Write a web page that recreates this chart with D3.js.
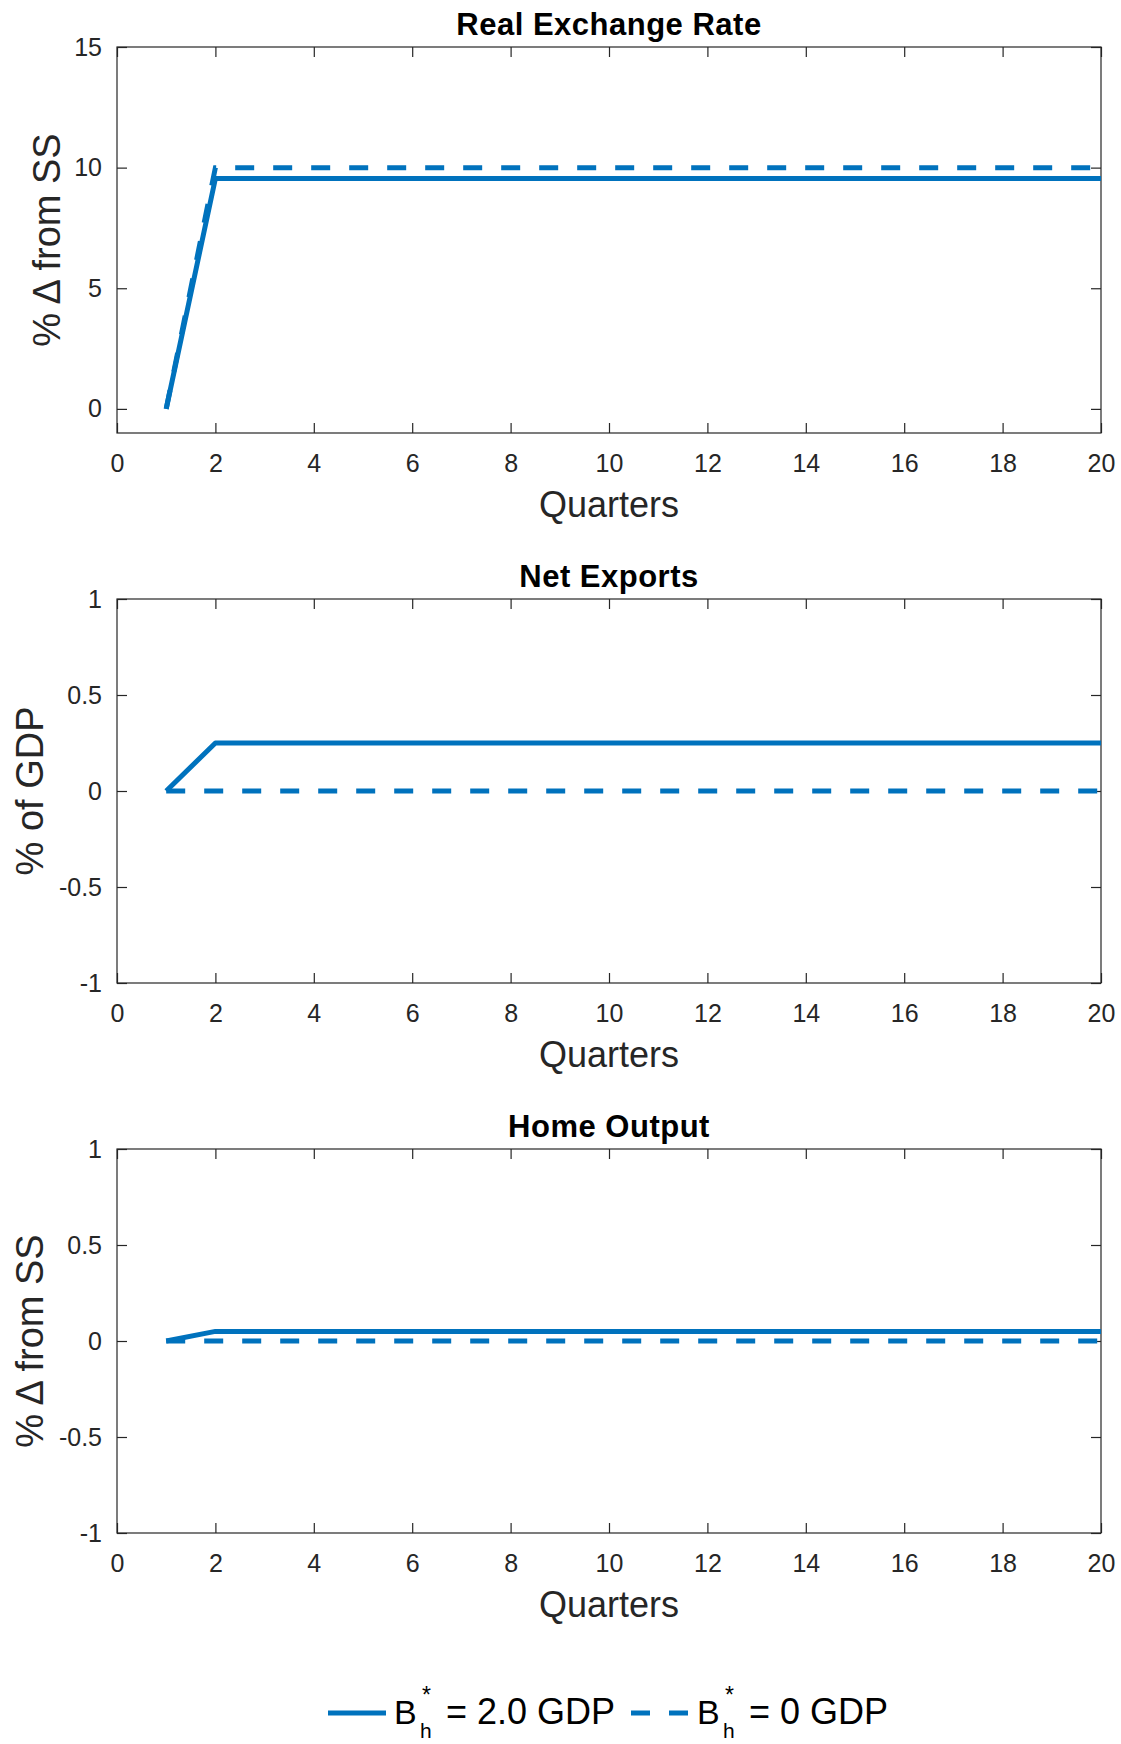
<!DOCTYPE html>
<html>
<head>
<meta charset="utf-8">
<script src="https://cdn.jsdelivr.net/npm/d3@7/dist/d3.min.js"></script>
<style>
  body { margin: 0; background: #fff; }
  svg { display: block; font-family: "Liberation Sans", Arial, sans-serif; }
</style>
</head>
<body>
<div id="chart"></div>
<script>
// quarters and tick values
var quarters = [1, 2, 3, 4, 5, 6, 7, 8, 9, 10, 11, 12, 13, 14, 15, 16, 17, 18, 19, 20]
var xTicks = [0, 2, 4, 6, 8, 10, 12, 14, 16, 18, 20]
var rerTicks = [0, 5, 10, 15]
var unitTicks = [-1, -0.5, 0, 0.5, 1]

// series (solid = B*h 2.0 GDP, dashed = B*h 0 GDP)
var rerSolid   = [0, 9.55, 9.55, 9.55, 9.55, 9.55, 9.55, 9.55, 9.55, 9.55, 9.55, 9.55, 9.55, 9.55, 9.55, 9.55, 9.55, 9.55, 9.55, 9.55]
var rerDashed  = [0, 10, 10, 10, 10, 10, 10, 10, 10, 10, 10, 10, 10, 10, 10, 10, 10, 10, 10, 10]
var nxSolid    = [0, 0.25, 0.25, 0.25, 0.25, 0.25, 0.25, 0.25, 0.25, 0.25, 0.25, 0.25, 0.25, 0.25, 0.25, 0.25, 0.25, 0.25, 0.25, 0.25]
var nxDashed   = [0, 0, 0, 0, 0, 0, 0, 0, 0, 0, 0, 0, 0, 0, 0, 0, 0, 0, 0, 0]
var outSolid   = [0, 0.05, 0.05, 0.05, 0.05, 0.05, 0.05, 0.05, 0.05, 0.05, 0.05, 0.05, 0.05, 0.05, 0.05, 0.05, 0.05, 0.05, 0.05, 0.05]
var outDashed  = [0, 0, 0, 0, 0, 0, 0, 0, 0, 0, 0, 0, 0, 0, 0, 0, 0, 0, 0, 0]

var width = 1121, height = 1744
  , left = 117, right = 1101
  , blue = '#0072BD'
  , ink = '#262626'

var svg = d3.select('#chart').append('svg')
  .attr('width', width)
  .attr('height', height)

var xScale = d3.scaleLinear().domain([0, 20]).range([left, right])

var panels = [
  { top: 47, bottom: 433, title: 'Real Exchange Rate', ylabel: '% \u0394 from SS', labelX: 60,
    domain: [-1, 15], ticks: rerTicks, solid: rerSolid, dashed: rerDashed },
  { top: 599, bottom: 983, title: 'Net Exports', ylabel: '% of GDP', labelX: 43,
    domain: [-1, 1], ticks: unitTicks, solid: nxSolid, dashed: nxDashed },
  { top: 1149, bottom: 1533, title: 'Home Output', ylabel: '% \u0394 from SS', labelX: 43,
    domain: [-1, 1], ticks: unitTicks, solid: outSolid, dashed: outDashed }
]

function styleAxis(g) {
  g.select('.domain').remove()
  g.selectAll('.tick line').attr('stroke', ink).attr('stroke-width', 1.2)
  g.selectAll('.tick text').attr('fill', ink).style('font-size', '25px')
}

panels.forEach(function(p) {
  var yScale = d3.scaleLinear().domain(p.domain).range([p.bottom, p.top])
    , fmt = function(d) { return String(d) }
    , g = svg.append('g')

  // ticks on all four sides, pointing inward
  g.append('g').attr('transform', 'translate(0,' + p.bottom + ')')
    .call(d3.axisBottom(xScale).tickValues(xTicks).tickFormat(fmt).tickSizeInner(-10).tickSizeOuter(0).tickPadding(21))
    .call(styleAxis)
  g.append('g').attr('transform', 'translate(0,' + p.top + ')')
    .call(d3.axisTop(xScale).tickValues(xTicks).tickFormat('').tickSizeInner(-10).tickSizeOuter(0))
    .call(styleAxis)
  g.append('g').attr('transform', 'translate(' + left + ',0)')
    .call(d3.axisLeft(yScale).tickValues(p.ticks).tickFormat(fmt).tickSizeInner(-10).tickSizeOuter(0).tickPadding(15))
    .call(styleAxis)
  g.append('g').attr('transform', 'translate(' + right + ',0)')
    .call(d3.axisRight(yScale).tickValues(p.ticks).tickFormat('').tickSizeInner(-10).tickSizeOuter(0))
    .call(styleAxis)

  g.append('rect')
    .attr('x', left).attr('y', p.top)
    .attr('width', right - left).attr('height', p.bottom - p.top)
    .attr('fill', 'none').attr('stroke', ink).attr('stroke-width', 1.2)

  var line = d3.line()
    .x(function(d, i) { return xScale(quarters[i]) })
    .y(function(d) { return yScale(d) })

  g.append('path').datum(p.solid)
    .attr('d', line).attr('fill', 'none')
    .attr('stroke', blue).attr('stroke-width', 5)
    .attr('stroke-linejoin', 'round')

  g.append('path').datum(p.dashed)
    .attr('d', line).attr('fill', 'none')
    .attr('stroke', blue).attr('stroke-width', 5)
    .attr('stroke-dasharray', '19,19')

  // title
  g.append('text')
    .attr('x', (left + right) / 2).attr('y', p.top - 12)
    .attr('text-anchor', 'middle')
    .style('font-size', '31px').style('font-weight', 'bold')
    .style('letter-spacing', '0.5px')
    .attr('fill', '#000')
    .text(p.title)

  // x label
  g.append('text')
    .attr('x', (left + right) / 2).attr('y', p.bottom + 84)
    .attr('text-anchor', 'middle')
    .style('font-size', '36px')
    .attr('fill', ink)
    .text('Quarters')

  // y label
  g.append('text')
    .attr('transform', 'translate(' + p.labelX + ',' + ((p.top + p.bottom) / 2) + ') rotate(-90)')
    .attr('text-anchor', 'middle')
    .style('font-size', '38px')
    .attr('fill', ink)
    .text(p.ylabel)
})

// legend
var legend = svg.append('g')
var legendItems = [
  { x: 328, dash: null, value: '= 2.0 GDP' },
  { x: 631, dash: '19,19', value: '= 0 GDP' }
]

legendItems.forEach(function(item) {
  legend.append('line')
    .attr('x1', item.x).attr('x2', item.x + 58)
    .attr('y1', 1713).attr('y2', 1713)
    .attr('stroke', blue).attr('stroke-width', 5)
    .attr('stroke-dasharray', item.dash)
  legend.append('text')
    .attr('x', item.x + 66).attr('y', 1724)
    .style('font-size', '34px').attr('fill', '#000')
    .text('B')
  legend.append('text')
    .attr('x', item.x + 92).attr('y', 1738)
    .style('font-size', '21px').attr('fill', '#000')
    .text('h')
  legend.append('text')
    .attr('x', item.x + 94).attr('y', 1703)
    .style('font-size', '23px').attr('fill', '#000')
    .text('*')
  legend.append('text')
    .attr('x', item.x + 118).attr('y', 1724)
    .style('font-size', '36px').attr('fill', '#000')
    .text(item.value)
})
</script>
</body>
</html>
